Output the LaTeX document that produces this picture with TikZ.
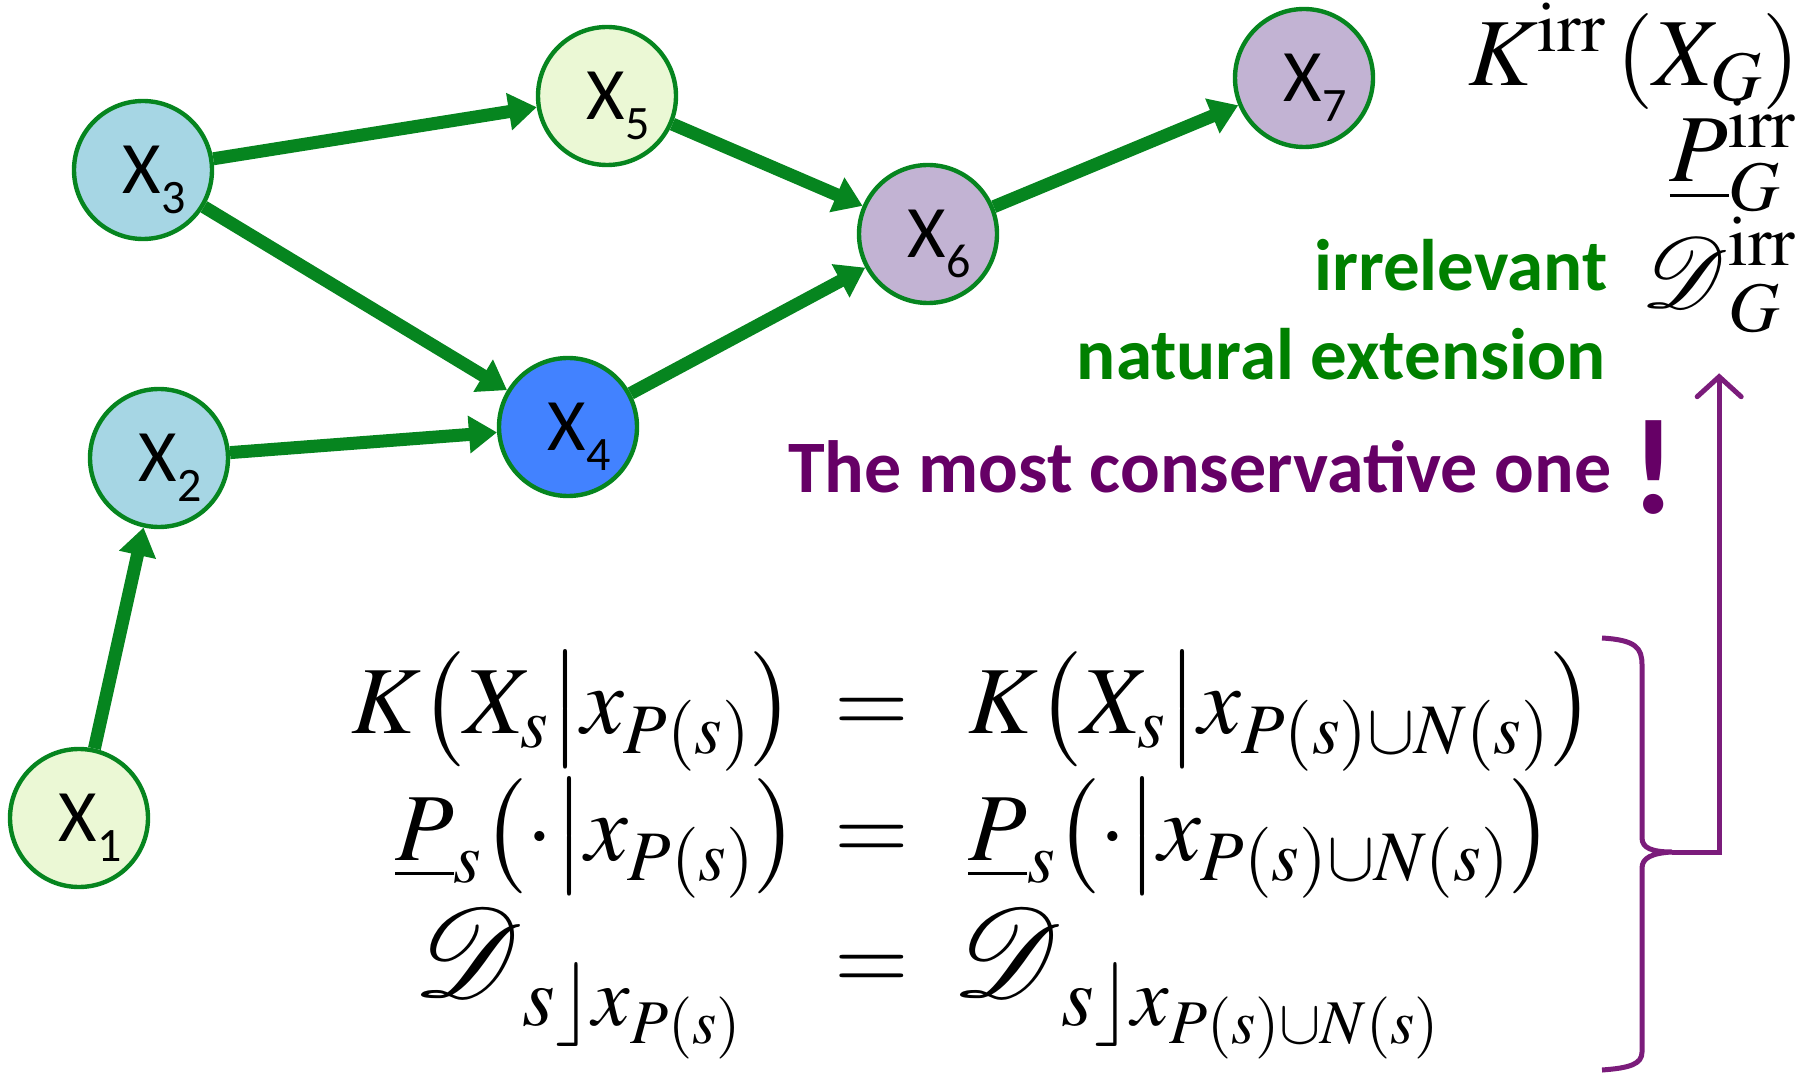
\documentclass[tikz,border=0pt]{standalone}
\usepackage{amsmath}
\usepackage[no-math]{fontspec}
\usepackage{mathptmx}
\usepackage{mathrsfs}
\DeclareFontFamily{U}{rsfs}{\skewchar\font127 }
\DeclareFontShape{U}{rsfs}{m}{n}{<-6> rsfs5 <6-9> rsfs7 <9-> rsfs10}{}
\usetikzlibrary{arrows.meta,positioning}
\newfontfamily\calibri{Carlito}
\definecolor{gline}{HTML}{06851F}
\definecolor{gtext}{HTML}{008000}
\definecolor{ptext}{HTML}{660066}
\definecolor{pline}{HTML}{7B1C7B}
\definecolor{fyel}{HTML}{EBF8D5}
\definecolor{fblue}{HTML}{A6D6E4}
\definecolor{fdeep}{HTML}{4282FF}
\definecolor{flil}{HTML}{C2B3D3}
\newcommand{\Xv}[1]{\kern0.3em X\raisebox{-0.27em}[0pt][0pt]{\fontsize{24}{24}\selectfont #1}}
\newcommand{\xP}{x_{P(s)}}
\newcommand{\xPN}{x_{P(s)\cup N(s)}}
\newcommand{\Dsc}[1]{\text{\fontsize{#1}{#1}\selectfont$\mathscr{D}$}}
\newcommand{\Dsub}[1]{\hbox{\fontsize{42}{42}\selectfont$s\rfloor#1$}}

\begin{document}
\begin{tikzpicture}[x=0.5pt,y=-0.5pt,
  var/.style={circle,draw=gline,line width=2.2pt,minimum size=69pt,inner sep=0pt,
    font=\calibri\fontsize{37}{40}\selectfont},
  dep/.style={gline,line width=6.5pt,-{Triangle[length=14pt,width=18pt]}},
  eqn/.style={inner sep=0pt,font=\fontsize{48}{58}\selectfont},
  gtxt/.style={inner sep=0pt,text=gtext,font=\calibri\bfseries\fontsize{36.5}{40}\selectfont},
  ptxt/.style={inner sep=0pt,text=ptext,font=\calibri\bfseries\fontsize{37}{40}\selectfont}]
\useasboundingbox (0,0) rectangle (1818,1074);

% the graph
\node[var,fill=fyel]  (x1) at (79,818)  {\Xv{1}};
\node[var,fill=fblue] (x2) at (159,458) {\Xv{2}};
\node[var,fill=fblue] (x3) at (143,170) {\Xv{3}};
\node[var,fill=fdeep] (x4) at (568,427) {\Xv{4}};
\node[var,fill=fyel]  (x5) at (607,96)  {\Xv{5}};
\node[var,fill=flil]  (x6) at (928,234) {\Xv{6}};
\node[var,fill=flil]  (x7) at (1304,78) {\Xv{7}};

\draw[dep] (x1) -- (x2);
\draw[dep] (x2) -- (x4);
\draw[dep] (x3) -- (x5);
\draw[dep] (x3) -- (x4);
\draw[dep] (x5) -- (x6);
\draw[dep] (x4) -- (x6);
\draw[dep] (x6) -- (x7);

% global model
\node[eqn,anchor=base east] (kirr) at (1800,86)  {$K^{\mathrm{irr}}\,(X_G)$};
\node[eqn,anchor=base east] (pirr) at (1797,182) {$\underline{P}^{\mathrm{irr}}_G$};
\node[eqn,anchor=base east] (dirr) at (1797,308) {$\Dsc{50}^{\mathrm{irr}}_G$};

\node[gtxt,anchor=base east] (irrel) at (1608,291) {irrelevant};
\node[gtxt,anchor=base east] (natext) at (1606,380) {natural extension};
\node[ptxt,anchor=base east] (cons) at (1612,492) {The most conservative one};
\node[ptxt,font=\calibri\bfseries\fontsize{68}{68}\selectfont,anchor=base] (bang) at (1654,513) {!};

% local models
\node[eqn,anchor=base] (lhsa) at (573,733) {$K\mathopen{}\left(X_s\middle|\xP\right)$};
\node[eqn,anchor=base] (eqa)  at (872,733) {$=$};
\node[eqn,anchor=base west] (rhsa) at (968,733) {$K\mathopen{}\left(X_s\middle|\xPN\right)$};
\node[eqn,anchor=base] (lhsb) at (597,860) {$\underline{P}_s\mathopen{}\left(\cdot\middle|\xP\right)$};
\node[eqn,anchor=base] (eqb)  at (872,860) {$=$};
\node[eqn,anchor=base west] (rhsb) at (968,860) {$\underline{P}_s\mathopen{}\left(\cdot\middle|\xPN\right)$};
\node[eqn,anchor=base] (lhsc) at (578,996) {$\Dsc{63}_{\Dsub{\xP}}$};
\node[eqn,anchor=base] (eqc)  at (872,990) {$=$};
\node[eqn,anchor=base west] (rhsc) at (952,996) {$\Dsc{63}_{\Dsub{\xPN}}$};

% brace and arrow up
\coordinate (btip) at (1672,852);
\draw[pline,line width=2.5pt]
  (1602,638) .. controls (1636,640) and (1642,648) .. (1642,665) -- (1642,838)
  .. controls (1642,848) and (1652,852) .. (btip)
  .. controls (1652,853) and (1642,858) .. (1642,868) -- (1642,1052)
  .. controls (1642,1064) and (1630,1068) .. (1602,1070);
\draw[pline,line width=2.5pt,-{Straight Barb[length=10pt,width=22pt,line cap=round]},shorten >=20pt]
  (btip) -| (dirr);
\end{tikzpicture}
\end{document}
